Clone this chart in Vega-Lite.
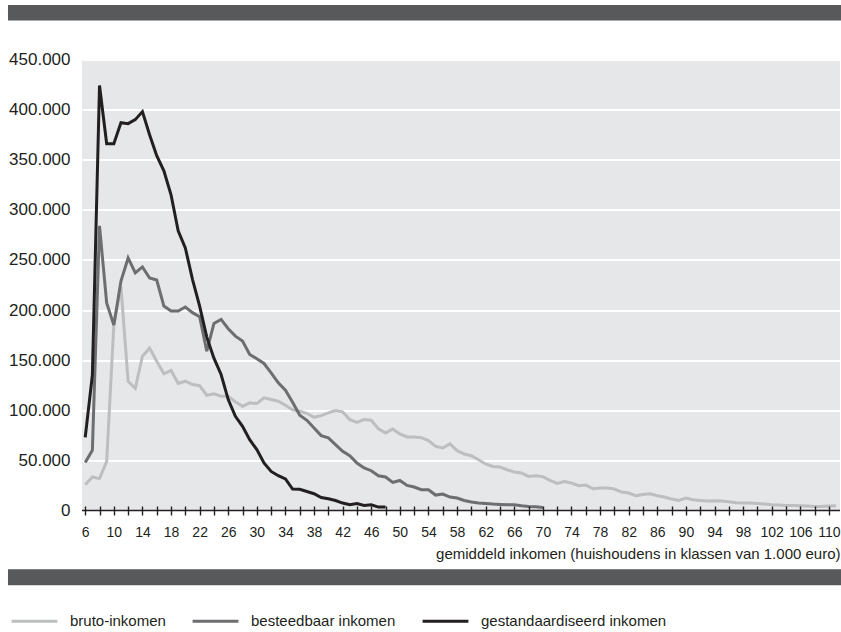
{
  "$schema": "https://vega.github.io/schema/vega-lite/v6.json",
  "width": 758,
  "height": 451,
  "autosize": {"type": "none"},
  "padding": {"left": 82, "top": 59.5, "right": 1, "bottom": 121.5},
  "background": "white",
  "config": {
    "view": {"fill": "#e6e7e8", "stroke": null},
    "font": "Liberation Sans",
    "axis": {"labelColor": "#231f20", "titleColor": "#231f20", "labelFont": "Liberation Sans", "titleFont": "Liberation Sans"},
    "legend": {"labelColor": "#231f20", "labelFont": "Liberation Sans"}
  },
  "datasets": {
    "inkomen": [
      {"klasse": 6, "reeks": "bruto-inkomen", "aantal": 25700},
      {"klasse": 7, "reeks": "bruto-inkomen", "aantal": 33400},
      {"klasse": 8, "reeks": "bruto-inkomen", "aantal": 31800},
      {"klasse": 9, "reeks": "bruto-inkomen", "aantal": 49000},
      {"klasse": 10, "reeks": "bruto-inkomen", "aantal": 185000},
      {"klasse": 11, "reeks": "bruto-inkomen", "aantal": 223000},
      {"klasse": 12, "reeks": "bruto-inkomen", "aantal": 129000},
      {"klasse": 13, "reeks": "bruto-inkomen", "aantal": 122000},
      {"klasse": 14, "reeks": "bruto-inkomen", "aantal": 154000},
      {"klasse": 15, "reeks": "bruto-inkomen", "aantal": 162000},
      {"klasse": 16, "reeks": "bruto-inkomen", "aantal": 149000},
      {"klasse": 17, "reeks": "bruto-inkomen", "aantal": 136400},
      {"klasse": 18, "reeks": "bruto-inkomen", "aantal": 139700},
      {"klasse": 19, "reeks": "bruto-inkomen", "aantal": 126700},
      {"klasse": 20, "reeks": "bruto-inkomen", "aantal": 129000},
      {"klasse": 21, "reeks": "bruto-inkomen", "aantal": 125700},
      {"klasse": 22, "reeks": "bruto-inkomen", "aantal": 124700},
      {"klasse": 23, "reeks": "bruto-inkomen", "aantal": 115000},
      {"klasse": 24, "reeks": "bruto-inkomen", "aantal": 116400},
      {"klasse": 25, "reeks": "bruto-inkomen", "aantal": 114000},
      {"klasse": 26, "reeks": "bruto-inkomen", "aantal": 114000},
      {"klasse": 27, "reeks": "bruto-inkomen", "aantal": 108400},
      {"klasse": 28, "reeks": "bruto-inkomen", "aantal": 104000},
      {"klasse": 29, "reeks": "bruto-inkomen", "aantal": 107400},
      {"klasse": 30, "reeks": "bruto-inkomen", "aantal": 106700},
      {"klasse": 31, "reeks": "bruto-inkomen", "aantal": 112400},
      {"klasse": 32, "reeks": "bruto-inkomen", "aantal": 110700},
      {"klasse": 33, "reeks": "bruto-inkomen", "aantal": 109000},
      {"klasse": 34, "reeks": "bruto-inkomen", "aantal": 105000},
      {"klasse": 35, "reeks": "bruto-inkomen", "aantal": 100500},
      {"klasse": 36, "reeks": "bruto-inkomen", "aantal": 99000},
      {"klasse": 37, "reeks": "bruto-inkomen", "aantal": 97000},
      {"klasse": 38, "reeks": "bruto-inkomen", "aantal": 93000},
      {"klasse": 39, "reeks": "bruto-inkomen", "aantal": 94700},
      {"klasse": 40, "reeks": "bruto-inkomen", "aantal": 97400},
      {"klasse": 41, "reeks": "bruto-inkomen", "aantal": 99700},
      {"klasse": 42, "reeks": "bruto-inkomen", "aantal": 98400},
      {"klasse": 43, "reeks": "bruto-inkomen", "aantal": 90700},
      {"klasse": 44, "reeks": "bruto-inkomen", "aantal": 88000},
      {"klasse": 45, "reeks": "bruto-inkomen", "aantal": 90700},
      {"klasse": 46, "reeks": "bruto-inkomen", "aantal": 90000},
      {"klasse": 47, "reeks": "bruto-inkomen", "aantal": 81400},
      {"klasse": 48, "reeks": "bruto-inkomen", "aantal": 77400},
      {"klasse": 49, "reeks": "bruto-inkomen", "aantal": 81400},
      {"klasse": 50, "reeks": "bruto-inkomen", "aantal": 76400},
      {"klasse": 51, "reeks": "bruto-inkomen", "aantal": 73400},
      {"klasse": 52, "reeks": "bruto-inkomen", "aantal": 73400},
      {"klasse": 53, "reeks": "bruto-inkomen", "aantal": 72700},
      {"klasse": 54, "reeks": "bruto-inkomen", "aantal": 69700},
      {"klasse": 55, "reeks": "bruto-inkomen", "aantal": 64000},
      {"klasse": 56, "reeks": "bruto-inkomen", "aantal": 62400},
      {"klasse": 57, "reeks": "bruto-inkomen", "aantal": 66400},
      {"klasse": 58, "reeks": "bruto-inkomen", "aantal": 59700},
      {"klasse": 59, "reeks": "bruto-inkomen", "aantal": 56400},
      {"klasse": 60, "reeks": "bruto-inkomen", "aantal": 54700},
      {"klasse": 61, "reeks": "bruto-inkomen", "aantal": 50700},
      {"klasse": 62, "reeks": "bruto-inkomen", "aantal": 46400},
      {"klasse": 63, "reeks": "bruto-inkomen", "aantal": 44000},
      {"klasse": 64, "reeks": "bruto-inkomen", "aantal": 43400},
      {"klasse": 65, "reeks": "bruto-inkomen", "aantal": 40700},
      {"klasse": 66, "reeks": "bruto-inkomen", "aantal": 38400},
      {"klasse": 67, "reeks": "bruto-inkomen", "aantal": 37400},
      {"klasse": 68, "reeks": "bruto-inkomen", "aantal": 34000},
      {"klasse": 69, "reeks": "bruto-inkomen", "aantal": 34700},
      {"klasse": 70, "reeks": "bruto-inkomen", "aantal": 33800},
      {"klasse": 71, "reeks": "bruto-inkomen", "aantal": 30000},
      {"klasse": 72, "reeks": "bruto-inkomen", "aantal": 27000},
      {"klasse": 73, "reeks": "bruto-inkomen", "aantal": 29000},
      {"klasse": 74, "reeks": "bruto-inkomen", "aantal": 27400},
      {"klasse": 75, "reeks": "bruto-inkomen", "aantal": 24700},
      {"klasse": 76, "reeks": "bruto-inkomen", "aantal": 25400},
      {"klasse": 77, "reeks": "bruto-inkomen", "aantal": 21700},
      {"klasse": 78, "reeks": "bruto-inkomen", "aantal": 22400},
      {"klasse": 79, "reeks": "bruto-inkomen", "aantal": 22400},
      {"klasse": 80, "reeks": "bruto-inkomen", "aantal": 21400},
      {"klasse": 81, "reeks": "bruto-inkomen", "aantal": 18400},
      {"klasse": 82, "reeks": "bruto-inkomen", "aantal": 17400},
      {"klasse": 83, "reeks": "bruto-inkomen", "aantal": 14700},
      {"klasse": 84, "reeks": "bruto-inkomen", "aantal": 16000},
      {"klasse": 85, "reeks": "bruto-inkomen", "aantal": 16700},
      {"klasse": 86, "reeks": "bruto-inkomen", "aantal": 14700},
      {"klasse": 87, "reeks": "bruto-inkomen", "aantal": 13400},
      {"klasse": 88, "reeks": "bruto-inkomen", "aantal": 11400},
      {"klasse": 89, "reeks": "bruto-inkomen", "aantal": 10000},
      {"klasse": 90, "reeks": "bruto-inkomen", "aantal": 12400},
      {"klasse": 91, "reeks": "bruto-inkomen", "aantal": 10700},
      {"klasse": 92, "reeks": "bruto-inkomen", "aantal": 10000},
      {"klasse": 93, "reeks": "bruto-inkomen", "aantal": 9400},
      {"klasse": 94, "reeks": "bruto-inkomen", "aantal": 9700},
      {"klasse": 95, "reeks": "bruto-inkomen", "aantal": 9400},
      {"klasse": 96, "reeks": "bruto-inkomen", "aantal": 8700},
      {"klasse": 97, "reeks": "bruto-inkomen", "aantal": 7700},
      {"klasse": 98, "reeks": "bruto-inkomen", "aantal": 7400},
      {"klasse": 99, "reeks": "bruto-inkomen", "aantal": 7400},
      {"klasse": 100, "reeks": "bruto-inkomen", "aantal": 7000},
      {"klasse": 101, "reeks": "bruto-inkomen", "aantal": 6400},
      {"klasse": 102, "reeks": "bruto-inkomen", "aantal": 5700},
      {"klasse": 103, "reeks": "bruto-inkomen", "aantal": 5400},
      {"klasse": 104, "reeks": "bruto-inkomen", "aantal": 5000},
      {"klasse": 105, "reeks": "bruto-inkomen", "aantal": 5000},
      {"klasse": 106, "reeks": "bruto-inkomen", "aantal": 4700},
      {"klasse": 107, "reeks": "bruto-inkomen", "aantal": 4400},
      {"klasse": 108, "reeks": "bruto-inkomen", "aantal": 4000},
      {"klasse": 109, "reeks": "bruto-inkomen", "aantal": 4000},
      {"klasse": 110, "reeks": "bruto-inkomen", "aantal": 4400},
      {"klasse": 111, "reeks": "bruto-inkomen", "aantal": 4700},
      {"klasse": 6, "reeks": "besteedbaar inkomen", "aantal": 48000},
      {"klasse": 7, "reeks": "besteedbaar inkomen", "aantal": 60000},
      {"klasse": 8, "reeks": "besteedbaar inkomen", "aantal": 284000},
      {"klasse": 9, "reeks": "besteedbaar inkomen", "aantal": 207000},
      {"klasse": 10, "reeks": "besteedbaar inkomen", "aantal": 185000},
      {"klasse": 11, "reeks": "besteedbaar inkomen", "aantal": 229000},
      {"klasse": 12, "reeks": "besteedbaar inkomen", "aantal": 252000},
      {"klasse": 13, "reeks": "besteedbaar inkomen", "aantal": 237000},
      {"klasse": 14, "reeks": "besteedbaar inkomen", "aantal": 243000},
      {"klasse": 15, "reeks": "besteedbaar inkomen", "aantal": 232000},
      {"klasse": 16, "reeks": "besteedbaar inkomen", "aantal": 230000},
      {"klasse": 17, "reeks": "besteedbaar inkomen", "aantal": 204000},
      {"klasse": 18, "reeks": "besteedbaar inkomen", "aantal": 199000},
      {"klasse": 19, "reeks": "besteedbaar inkomen", "aantal": 199000},
      {"klasse": 20, "reeks": "besteedbaar inkomen", "aantal": 203000},
      {"klasse": 21, "reeks": "besteedbaar inkomen", "aantal": 197400},
      {"klasse": 22, "reeks": "besteedbaar inkomen", "aantal": 193400},
      {"klasse": 23, "reeks": "besteedbaar inkomen", "aantal": 159000},
      {"klasse": 24, "reeks": "besteedbaar inkomen", "aantal": 186700},
      {"klasse": 25, "reeks": "besteedbaar inkomen", "aantal": 190700},
      {"klasse": 26, "reeks": "besteedbaar inkomen", "aantal": 181400},
      {"klasse": 27, "reeks": "besteedbaar inkomen", "aantal": 174000},
      {"klasse": 28, "reeks": "besteedbaar inkomen", "aantal": 169000},
      {"klasse": 29, "reeks": "besteedbaar inkomen", "aantal": 155700},
      {"klasse": 30, "reeks": "besteedbaar inkomen", "aantal": 151400},
      {"klasse": 31, "reeks": "besteedbaar inkomen", "aantal": 146700},
      {"klasse": 32, "reeks": "besteedbaar inkomen", "aantal": 137400},
      {"klasse": 33, "reeks": "besteedbaar inkomen", "aantal": 127400},
      {"klasse": 34, "reeks": "besteedbaar inkomen", "aantal": 120000},
      {"klasse": 35, "reeks": "besteedbaar inkomen", "aantal": 108000},
      {"klasse": 36, "reeks": "besteedbaar inkomen", "aantal": 95000},
      {"klasse": 37, "reeks": "besteedbaar inkomen", "aantal": 90000},
      {"klasse": 38, "reeks": "besteedbaar inkomen", "aantal": 82400},
      {"klasse": 39, "reeks": "besteedbaar inkomen", "aantal": 74700},
      {"klasse": 40, "reeks": "besteedbaar inkomen", "aantal": 72400},
      {"klasse": 41, "reeks": "besteedbaar inkomen", "aantal": 65700},
      {"klasse": 42, "reeks": "besteedbaar inkomen", "aantal": 59000},
      {"klasse": 43, "reeks": "besteedbaar inkomen", "aantal": 54700},
      {"klasse": 44, "reeks": "besteedbaar inkomen", "aantal": 47400},
      {"klasse": 45, "reeks": "besteedbaar inkomen", "aantal": 42400},
      {"klasse": 46, "reeks": "besteedbaar inkomen", "aantal": 39700},
      {"klasse": 47, "reeks": "besteedbaar inkomen", "aantal": 34700},
      {"klasse": 48, "reeks": "besteedbaar inkomen", "aantal": 33400},
      {"klasse": 49, "reeks": "besteedbaar inkomen", "aantal": 28000},
      {"klasse": 50, "reeks": "besteedbaar inkomen", "aantal": 30000},
      {"klasse": 51, "reeks": "besteedbaar inkomen", "aantal": 25000},
      {"klasse": 52, "reeks": "besteedbaar inkomen", "aantal": 23400},
      {"klasse": 53, "reeks": "besteedbaar inkomen", "aantal": 20700},
      {"klasse": 54, "reeks": "besteedbaar inkomen", "aantal": 20700},
      {"klasse": 55, "reeks": "besteedbaar inkomen", "aantal": 15400},
      {"klasse": 56, "reeks": "besteedbaar inkomen", "aantal": 16400},
      {"klasse": 57, "reeks": "besteedbaar inkomen", "aantal": 13400},
      {"klasse": 58, "reeks": "besteedbaar inkomen", "aantal": 12400},
      {"klasse": 59, "reeks": "besteedbaar inkomen", "aantal": 10000},
      {"klasse": 60, "reeks": "besteedbaar inkomen", "aantal": 8400},
      {"klasse": 61, "reeks": "besteedbaar inkomen", "aantal": 7400},
      {"klasse": 62, "reeks": "besteedbaar inkomen", "aantal": 7000},
      {"klasse": 63, "reeks": "besteedbaar inkomen", "aantal": 6400},
      {"klasse": 64, "reeks": "besteedbaar inkomen", "aantal": 6000},
      {"klasse": 65, "reeks": "besteedbaar inkomen", "aantal": 5700},
      {"klasse": 66, "reeks": "besteedbaar inkomen", "aantal": 5700},
      {"klasse": 67, "reeks": "besteedbaar inkomen", "aantal": 4700},
      {"klasse": 68, "reeks": "besteedbaar inkomen", "aantal": 4000},
      {"klasse": 69, "reeks": "besteedbaar inkomen", "aantal": 3700},
      {"klasse": 70, "reeks": "besteedbaar inkomen", "aantal": 3000},
      {"klasse": 6, "reeks": "gestandaardiseerd inkomen", "aantal": 73000},
      {"klasse": 7, "reeks": "gestandaardiseerd inkomen", "aantal": 135000},
      {"klasse": 8, "reeks": "gestandaardiseerd inkomen", "aantal": 424000},
      {"klasse": 9, "reeks": "gestandaardiseerd inkomen", "aantal": 366000},
      {"klasse": 10, "reeks": "gestandaardiseerd inkomen", "aantal": 366000},
      {"klasse": 11, "reeks": "gestandaardiseerd inkomen", "aantal": 387000},
      {"klasse": 12, "reeks": "gestandaardiseerd inkomen", "aantal": 386000},
      {"klasse": 13, "reeks": "gestandaardiseerd inkomen", "aantal": 390000},
      {"klasse": 14, "reeks": "gestandaardiseerd inkomen", "aantal": 398000},
      {"klasse": 15, "reeks": "gestandaardiseerd inkomen", "aantal": 375000},
      {"klasse": 16, "reeks": "gestandaardiseerd inkomen", "aantal": 354000},
      {"klasse": 17, "reeks": "gestandaardiseerd inkomen", "aantal": 339000},
      {"klasse": 18, "reeks": "gestandaardiseerd inkomen", "aantal": 315000},
      {"klasse": 19, "reeks": "gestandaardiseerd inkomen", "aantal": 279000},
      {"klasse": 20, "reeks": "gestandaardiseerd inkomen", "aantal": 262000},
      {"klasse": 21, "reeks": "gestandaardiseerd inkomen", "aantal": 230700},
      {"klasse": 22, "reeks": "gestandaardiseerd inkomen", "aantal": 204000},
      {"klasse": 23, "reeks": "gestandaardiseerd inkomen", "aantal": 173000},
      {"klasse": 24, "reeks": "gestandaardiseerd inkomen", "aantal": 152000},
      {"klasse": 25, "reeks": "gestandaardiseerd inkomen", "aantal": 135700},
      {"klasse": 26, "reeks": "gestandaardiseerd inkomen", "aantal": 110700},
      {"klasse": 27, "reeks": "gestandaardiseerd inkomen", "aantal": 94000},
      {"klasse": 28, "reeks": "gestandaardiseerd inkomen", "aantal": 84000},
      {"klasse": 29, "reeks": "gestandaardiseerd inkomen", "aantal": 70700},
      {"klasse": 30, "reeks": "gestandaardiseerd inkomen", "aantal": 60700},
      {"klasse": 31, "reeks": "gestandaardiseerd inkomen", "aantal": 47400},
      {"klasse": 32, "reeks": "gestandaardiseerd inkomen", "aantal": 39000},
      {"klasse": 33, "reeks": "gestandaardiseerd inkomen", "aantal": 34700},
      {"klasse": 34, "reeks": "gestandaardiseerd inkomen", "aantal": 31500},
      {"klasse": 35, "reeks": "gestandaardiseerd inkomen", "aantal": 21400},
      {"klasse": 36, "reeks": "gestandaardiseerd inkomen", "aantal": 21200},
      {"klasse": 37, "reeks": "gestandaardiseerd inkomen", "aantal": 19000},
      {"klasse": 38, "reeks": "gestandaardiseerd inkomen", "aantal": 16700},
      {"klasse": 39, "reeks": "gestandaardiseerd inkomen", "aantal": 13000},
      {"klasse": 40, "reeks": "gestandaardiseerd inkomen", "aantal": 11700},
      {"klasse": 41, "reeks": "gestandaardiseerd inkomen", "aantal": 10000},
      {"klasse": 42, "reeks": "gestandaardiseerd inkomen", "aantal": 7400},
      {"klasse": 43, "reeks": "gestandaardiseerd inkomen", "aantal": 5700},
      {"klasse": 44, "reeks": "gestandaardiseerd inkomen", "aantal": 7000},
      {"klasse": 45, "reeks": "gestandaardiseerd inkomen", "aantal": 5000},
      {"klasse": 46, "reeks": "gestandaardiseerd inkomen", "aantal": 5700},
      {"klasse": 47, "reeks": "gestandaardiseerd inkomen", "aantal": 3400},
      {"klasse": 48, "reeks": "gestandaardiseerd inkomen", "aantal": 3400}
    ]
  },
  "layer": [
    {
      "data": {"name": "inkomen"},
      "mark": {"type": "line", "strokeWidth": 3, "clip": false, "strokeJoin": "miter"},
      "encoding": {
        "x": {
          "field": "klasse",
          "type": "quantitative",
          "scale": {"domain": [5.55, 111.55], "nice": false, "zero": false},
          "axis": {
            "title": "gemiddeld inkomen (huishoudens in klassen van 1.000 euro)",
            "titleAnchor": "end",
            "titleFontWeight": "normal",
            "titleFontSize": 15,
            "titlePadding": 7,
            "values": [6,8,10,12,14,16,18,20,22,24,26,28,30,32,34,36,38,40,42,44,46,48,50,52,54,56,58,60,62,64,66,68,70,72,74,76,78,80,82,84,86,88,90,92,94,96,98,100,102,104,106,108,110],
            "tickCount": 100,
            "labelExpr": "(datum.value - 6) % 4 == 0 ? datum.label : ''",
            "labelOverlap": false,
            "labelFlush": false,
            "labelBound": false,
            "labelFontSize": 14,
            "labelPadding": 10,
            "domain": false,
            "grid": false,
            "ticks": true,
            "tickSize": 9,
            "tickColor": "#231f20",
            "tickWidth": 1.4,
            "tickOpacity": 1,
            "offset": -4.5,
            "zindex": 2
          }
        },
        "y": {
          "field": "aantal",
          "type": "quantitative",
          "scale": {"domain": [0, 450000], "nice": false},
          "axis": {
            "title": null,
            "values": [0, 50000, 100000, 150000, 200000, 250000, 300000, 350000, 400000, 450000],
            "labelExpr": "replace(format(datum.value, ','), ',', '.')",
            "labelFontSize": 17,
            "labelPadding": 12,
            "domain": false,
            "ticks": false,
            "grid": true,
            "gridColor": "#ffffff",
            "gridWidth": 2
          }
        },
        "color": {
          "field": "reeks",
          "type": "nominal",
          "scale": {
            "domain": ["bruto-inkomen", "besteedbaar inkomen", "gestandaardiseerd inkomen"],
            "range": ["#bcbec0", "#6d6e71", "#231f20"]
          },
          "legend": {
            "title": null,
            "orient": "none",
            "direction": "horizontal",
            "legendX": -72,
            "legendY": 537,
            "symbolType": "stroke",
            "symbolSize": 2100,
            "symbolStrokeWidth": 3,
            "labelFontSize": 15,
            "labelOffset": 11,
            "labelLimit": 0,
            "columnPadding": 20,
            "padding": 0
          }
        }
      }
    },
    {
      "data": {"values": [{}]},
      "mark": {"type": "rect", "color": "#58595b", "clip": false},
      "encoding": {
        "x": {"datum": -4.8, "type": "quantitative"},
        "x2": {"datum": 111.75},
        "y": {"datum": 504500, "type": "quantitative"},
        "y2": {"datum": 489000}
      }
    },
    {
      "data": {"values": [{}]},
      "mark": {"type": "rect", "color": "#58595b", "clip": false},
      "encoding": {
        "x": {"datum": -4.8, "type": "quantitative"},
        "x2": {"datum": 111.75},
        "y": {"datum": -58500, "type": "quantitative"},
        "y2": {"datum": -74500}
      }
    },
    {
      "data": {"values": [{}]},
      "mark": {"type": "rule", "color": "#231f20", "strokeWidth": 1.5},
      "encoding": {
        "y": {"datum": 0, "type": "quantitative"}
      }
    }
  ]
}
